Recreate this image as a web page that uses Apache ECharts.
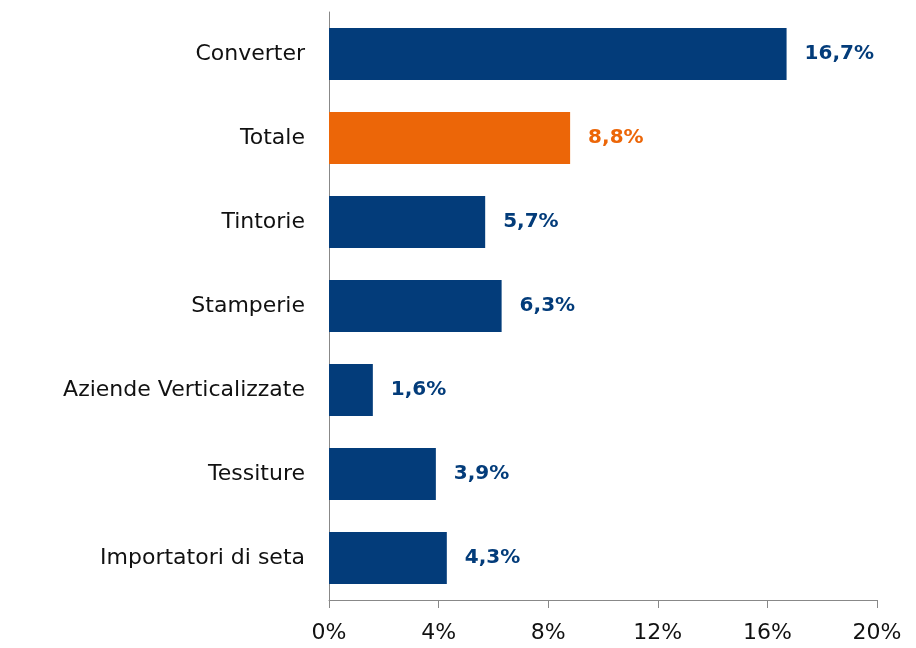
<!DOCTYPE html>
<html>
<head>
<meta charset="utf-8">
<script src="https://cdn.jsdelivr.net/npm/echarts@6/dist/echarts.min.js"></script>
<style>
  html, body { margin: 0; padding: 0; background: #fff; }
  #chart { width: 916px; height: 648px; }
</style>
</head>
<body>
<div id="chart"></div>
<script>
// categories top to bottom
var categories = ["Converter", "Totale", "Tintorie", "Stamperie", "Aziende Verticalizzate", "Tessiture", "Importatori di seta"];
var values = [16.7, 8.8, 5.7, 6.3, 1.6, 3.9, 4.3];
var highlight = "Totale";

var blue = "#033C7A";
var orange = "#EC6608";
var font = "DejaVu Sans";

var chart = echarts.init(document.getElementById("chart"));
chart.setOption({
  animation: false,
  textStyle: { fontFamily: font },
  grid: { left: 329, right: 39, top: 12, bottom: 48 },
  xAxis: {
    type: "value",
    min: 0,
    max: 20,
    interval: 4,
    splitLine: { show: false },
    axisLine: { show: true, lineStyle: { color: "#888", width: 1 } },
    axisTick: { show: true, length: 8, lineStyle: { color: "#888" } },
    axisLabel: {
      formatter: "{value}%",
      color: "#111",
      fontSize: 22,
      margin: 22,
      fontFamily: font
    }
  },
  yAxis: {
    type: "category",
    inverse: true,
    data: categories,
    axisLine: { show: true, lineStyle: { color: "#888", width: 1 } },
    axisTick: { show: false },
    axisLabel: { color: "#111", fontSize: 22, margin: 24, fontFamily: font }
  },
  series: [{
    type: "bar",
    barWidth: 52,
    data: values.map(function (v, i) {
      var c = categories[i] === highlight ? orange : blue;
      return {
        value: v,
        itemStyle: { color: c },
        label: { color: c }
      };
    }),
    label: {
      show: true,
      position: "right",
      distance: 18,
      fontSize: 20,
      fontWeight: "bold",
      fontFamily: font,
      formatter: function (p) { return p.value.toFixed(1).replace(".", ",") + "%"; }
    }
  }]
});
</script>
</body>
</html>
